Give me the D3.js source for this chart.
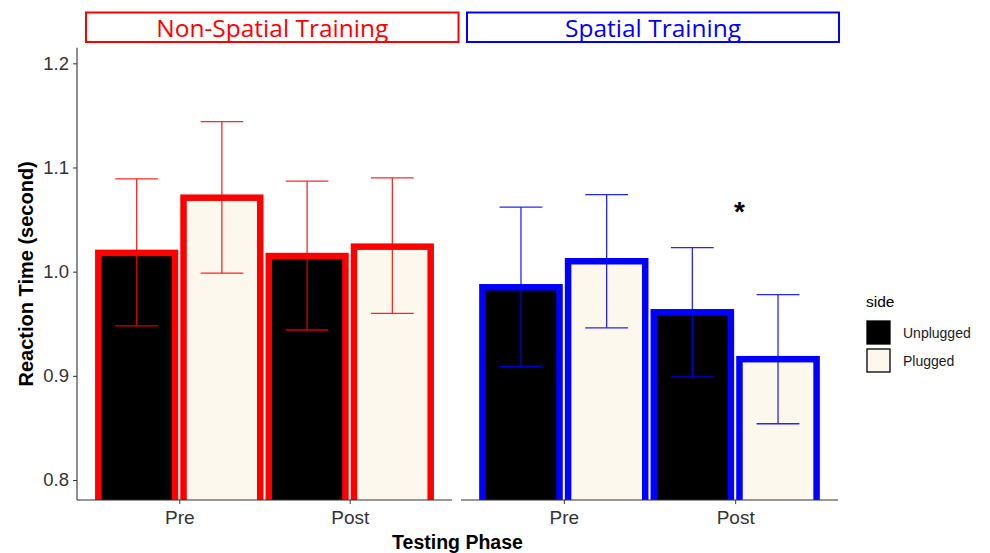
<!DOCTYPE html>
<html><head><meta charset="utf-8">
<script src="https://cdn.jsdelivr.net/npm/d3@7"></script>
<style>body{margin:0;background:#fff}svg{display:block}</style>
</head><body><svg id="c" width="990" height="553"></svg>
<script>
const phases = ["Pre", "Post"];
const sides = ["Unplugged", "Plugged"];
const trainings = ["Non-Spatial Training", "Spatial Training"];
// means, per training, per side, per phase [Pre, Post]
const nonSpatialUnplugged = [1.018, 1.015];
const nonSpatialPlugged   = [1.071, 1.024];
const spatialUnplugged    = [0.985, 0.961];
const spatialPlugged      = [1.010, 0.916];
// error bar bounds
const nonSpatialUnpluggedLo = [0.948, 0.944], nonSpatialUnpluggedHi = [1.089, 1.087];
const nonSpatialPluggedLo   = [0.9985, 0.960], nonSpatialPluggedHi = [1.144, 1.090];
const spatialUnpluggedLo    = [0.909, 0.899], spatialUnpluggedHi = [1.062, 1.023];
const spatialPluggedLo      = [0.946, 0.854], spatialPluggedHi = [1.074, 0.978];
const yTicks = [0.8, 0.9, 1.0, 1.1, 1.2];
const starValue = 1.063; // significance marker, Spatial / Post

const rows = [];
const meanT = [[nonSpatialUnplugged, nonSpatialPlugged],[spatialUnplugged, spatialPlugged]];
const loT = [[nonSpatialUnpluggedLo, nonSpatialPluggedLo],[spatialUnpluggedLo, spatialPluggedLo]];
const hiT = [[nonSpatialUnpluggedHi, nonSpatialPluggedHi],[spatialUnpluggedHi, spatialPluggedHi]];
trainings.forEach((t, ti) => sides.forEach((s, si) => phases.forEach((p, pi) => {
  rows.push({training: t, ti, side: s, si, phase: p, pi,
    mean: meanT[ti][si][pi], lo: loT[ti][si][pi], hi: hiT[ti][si][pi]});
})));

const svg = d3.select("#c");
const font = "'Liberation Sans', Arial, sans-serif";
const yTop = 47.7, yBottom = 500;
const panels = [[77, 452], [461, 838]];
const y = d3.scaleLinear().domain([0.7808, 1.215]).range([yBottom, yTop]);
const outline = ["#ff0000", "#0000ff"];
const fill = {Unplugged: "#000000", Plugged: "#fdf8ee"};
const stripBoxes = [[86, 458.5], [467, 839]];

trainings.forEach((t, ti) => {
  const [x0, x1] = panels[ti];
  const x = d3.scaleLinear().domain([0.4, 2.6]).range([x0, x1]);
  const u = x(1) - x(0);
  const g = svg.append("g");
  const cid = "clip" + ti;
  svg.append("clipPath").attr("id", cid).append("rect")
    .attr("x", x0 - 10).attr("y", yTop).attr("width", x1 - x0 + 20).attr("height", yBottom - yTop);
  const data = rows.filter(r => r.ti === ti);
  const cx = d => x(d.pi + 1 + (d.si === 0 ? -0.25 : 0.25));
  const bw = 0.45 * u;
  g.append("g").attr("clip-path", `url(#${cid})`).selectAll("rect").data(data).join("rect")
    .attr("x", d => cx(d) - bw / 2).attr("width", bw)
    .attr("y", d => y(d.mean)).attr("height", d => y(0.7) - y(d.mean))
    .attr("fill", d => fill[d.side]).attr("stroke", outline[ti]).attr("stroke-width", 6.5);
  const cap = 0.25 * u;
  const eb = g.append("g").attr("stroke", outline[ti]).attr("stroke-width", 1.3).attr("opacity", 0.85);
  data.forEach(d => {
    eb.append("line").attr("x1", cx(d)).attr("x2", cx(d)).attr("y1", y(d.lo)).attr("y2", y(d.hi));
    eb.append("line").attr("x1", cx(d) - cap/2).attr("x2", cx(d) + cap/2).attr("y1", y(d.lo)).attr("y2", y(d.lo));
    eb.append("line").attr("x1", cx(d) - cap/2).attr("x2", cx(d) + cap/2).attr("y1", y(d.hi)).attr("y2", y(d.hi));
  });
  // x axis
  const xb = d3.scalePoint().domain(phases).range([x(1), x(2)]);
  const ax = svg.append("g").attr("transform", `translate(0,${yBottom})`)
    .call(d3.axisBottom(xb).tickSize(4).tickPadding(7));
  ax.select(".domain").attr("d", `M${x0},0H${x1}`).attr("stroke", "#333").attr("stroke-width", 1.1);
  ax.selectAll(".tick line").attr("stroke", "#333");
  ax.selectAll(".tick text").attr("font-family", font).attr("font-size", 19).attr("fill", "#333");
  // strip
  const [s0, s1] = stripBoxes[ti];
  svg.append("rect").attr("x", s0).attr("y", 12.5).attr("width", s1 - s0).attr("height", 29.5)
    .attr("fill", "#fff").attr("stroke", outline[ti]).attr("stroke-width", 2);
  svg.append("text").attr("x", (s0 + s1) / 2).attr("y", 36.5).attr("text-anchor", "middle")
    .attr("font-family", "'Open Sans', 'Noto Sans', sans-serif").attr("font-size", 24.5)
    .attr("fill", outline[ti]).text(t);
  if (ti === 1) {
    svg.append("text").attr("x", x(2) + 0.025 * u).attr("y", y(starValue) + 14.5)
      .attr("text-anchor", "middle").attr("font-family", font).attr("font-size", 28).attr("font-weight", "bold")
      .attr("fill", "#000").text("*");
  }
});

// y axis (left panel only)
const ay = svg.append("g").attr("transform", `translate(${panels[0][0]},0)`)
  .call(d3.axisLeft(y).tickValues(yTicks).tickFormat(d3.format(".1f")).tickSize(4).tickPadding(4));
ay.select(".domain").attr("d", `M0,${yTop}V${yBottom}`).attr("stroke", "#333").attr("stroke-width", 1.1);
ay.selectAll(".tick line").attr("stroke", "#333");
ay.selectAll(".tick text").attr("font-family", font).attr("font-size", 18.5).attr("fill", "#333");

// axis titles
svg.append("text").attr("x", (panels[0][0] + panels[1][1]) / 2).attr("y", 548.5).attr("text-anchor", "middle")
  .attr("font-family", font).attr("font-weight", "bold").attr("font-size", 19.5).text("Testing Phase");
svg.append("text").attr("transform", `translate(33,${(yTop + yBottom) / 2}) rotate(-90)`).attr("text-anchor", "middle")
  .attr("font-family", font).attr("font-weight", "bold").attr("font-size", 20).text("Reaction Time (second)");

// legend
const lg = svg.append("g").attr("transform", "translate(866,0)");
lg.append("text").attr("x", 0).attr("y", 307).attr("font-family", font).attr("font-size", 15.5).text("side");
sides.forEach((s, i) => {
  lg.append("rect").attr("x", 1).attr("y", 321 + i * 28).attr("width", 23).attr("height", 23)
    .attr("fill", fill[s]).attr("stroke", "#000").attr("stroke-width", 1.3);
  lg.append("text").attr("x", 37).attr("y", 338 + i * 28).attr("font-family", font).attr("font-size", 14)
    .attr("fill", "#1a1a1a").text(s);
});
</script></body></html>
